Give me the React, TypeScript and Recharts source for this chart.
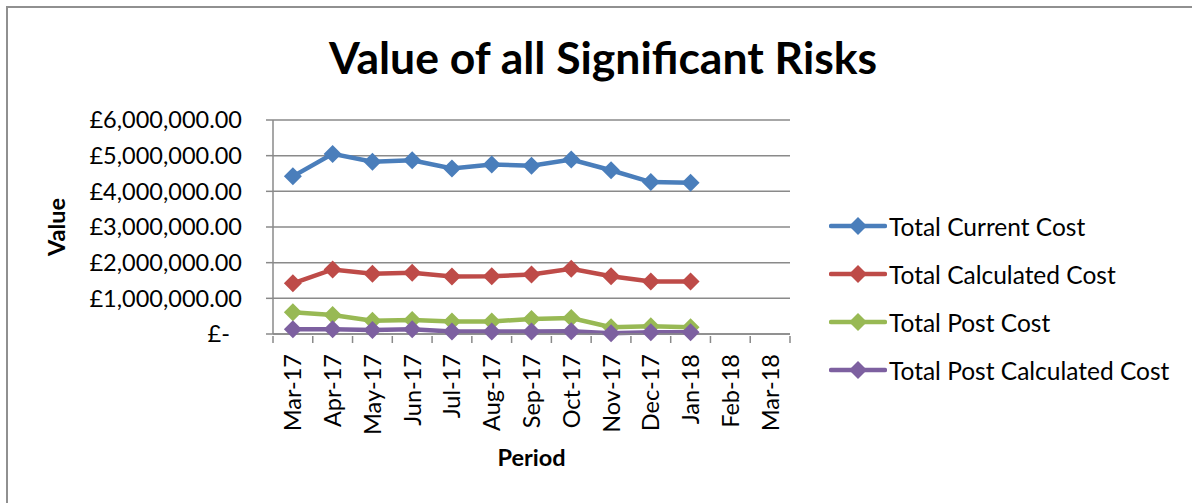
import React from "react";
import {
  LineChart,
  Line,
  XAxis,
  YAxis,
  CartesianGrid,
  Legend,
} from "recharts";

const periods = [
  "Mar-17", "Apr-17", "May-17", "Jun-17", "Jul-17", "Aug-17", "Sep-17",
  "Oct-17", "Nov-17", "Dec-17", "Jan-18", "Feb-18", "Mar-18",
];
const currentCost = [4420000, 5050000, 4830000, 4870000, 4640000, 4750000, 4720000, 4890000, 4590000, 4260000, 4240000, null, null];
const calculatedCost = [1420000, 1810000, 1690000, 1720000, 1610000, 1620000, 1670000, 1830000, 1620000, 1470000, 1470000, null, null];
const postCost = [610000, 530000, 370000, 390000, 350000, 350000, 420000, 450000, 190000, 220000, 190000, null, null];
const postCalculatedCost = [130000, 130000, 110000, 130000, 70000, 70000, 70000, 80000, 20000, 50000, 50000, null, null];
const valueTicks = [0, 1000000, 2000000, 3000000, 4000000, 5000000, 6000000];

const series = [
  { key: "current", name: "Total Current Cost", color: "#4A7EBB", values: currentCost },
  { key: "calculated", name: "Total Calculated Cost", color: "#BE4B48", values: calculatedCost },
  { key: "post", name: "Total Post Cost", color: "#98B954", values: postCost },
  { key: "postCalc", name: "Total Post Calculated Cost", color: "#7D60A0", values: postCalculatedCost },
];

const data = periods.map((p, i) => {
  const row: Record<string, any> = { period: p };
  series.forEach((s) => (row[s.key] = s.values[i]));
  return row;
});

const FONT = "Lato, 'Noto Sans', sans-serif";
const GRID = "#8a8a8a";

const fmtPound = (v: number) => {
  if (v === 0) return "£-\u00a0\u00a0";
  return "£" + v.toLocaleString("en-GB", { minimumFractionDigits: 2, maximumFractionDigits: 2 });
};

function Diamond(props: any) {
  const { cx, cy, stroke, index } = props;
  if (cx == null || cy == null || props.value == null) return <g key={index} />;
  const r = 9;
  return (
    <path
      key={index}
      d={`M${cx},${cy - r}L${cx + r},${cy}L${cx},${cy + r}L${cx - r},${cy}Z`}
      fill={stroke}
      stroke="none"
    />
  );
}

// category label + tick marks on the band edges (Excel style)
function PeriodTick(props: any) {
  const { x, y, payload, index } = props;
  const half = payload && payload.offset ? payload.offset : 19.9;
  const last = index === periods.length - 1;
  return (
    <g transform={`translate(${x},${y})`}>
      <line x1={-half} y1={-8} x2={-half} y2={-1} stroke={GRID} strokeWidth={1.5} />
      {last && <line x1={half} y1={-8} x2={half} y2={-1} stroke={GRID} strokeWidth={1.5} />}
      <text
        transform="rotate(-90)"
        x={-10}
        y={0}
        dy="0.36em"
        textAnchor="end"
        fill="#000"
        fontSize={23.5}
        fontFamily={FONT}
      >
        {payload.value}
      </text>
    </g>
  );
}

function LegendBox() {
  return (
    <div style={{ fontFamily: FONT, fontSize: 24.5, color: "#000" }}>
      {series.map((s) => (
        <div key={s.key} style={{ display: "flex", alignItems: "center", height: 48, whiteSpace: "nowrap" }}>
          <svg width={58} height={20} style={{ marginRight: 2 }}>
            <line x1={2} y1={10} x2={56} y2={10} stroke={s.color} strokeWidth={4.5} strokeLinecap="round" />
            <path d="M29,1L38,10L29,19L20,10Z" fill={s.color} />
          </svg>
          <span>{s.name}</span>
        </div>
      ))}
    </div>
  );
}

export default function App() {
  return (
    <div
      style={{
        position: "absolute",
        left: 0,
        top: 0,
        width: 1192,
        height: 503,
        overflow: "hidden",
        background: "#fff",
        fontFamily: FONT,
      }}
    >
      <div
        style={{
          position: "absolute",
          left: 6,
          top: 6,
          width: 1220,
          height: 540,
          border: "2px solid #909090",
        }}
      />
      <div
        style={{
          position: "absolute",
          left: 0,
          top: 35,
          width: 1206,
          textAlign: "center",
          fontSize: 44.5,
          lineHeight: "44px",
          fontWeight: 700,
          color: "#000",
        }}
      >
        Value of all Significant Risks
      </div>
      <div style={{ position: "absolute", left: 0, top: 0 }}>
        <LineChart
          width={1192}
          height={503}
          data={data}
          margin={{ top: 120, right: 402, bottom: 29, left: 0 }}
        >
          <CartesianGrid vertical={false} stroke={GRID} strokeWidth={1.5} />
          <XAxis
            dataKey="period"
            scale="band"
            interval={0}
            tick={<PeriodTick />}
            tickLine={false}
            axisLine={{ stroke: GRID, strokeWidth: 1.5 }}
            tickSize={8}
            height={140}
            label={(p: any) => {
              const vb = p.viewBox || {};
              return (
                <text
                  x={vb.x + vb.width / 2}
                  y={vb.y + vb.height - 8}
                  textAnchor="middle"
                  fontSize={23.5}
                  fontWeight={700}
                  fontFamily={FONT}
                  fill="#000"
                >
                  Period
                </text>
              );
            }}
          />
          <YAxis
            domain={[0, 6000000]}
            ticks={valueTicks}
            tickFormatter={fmtPound}
            width={273}
            tickSize={7}
            tickMargin={24}
            tickLine={{ stroke: GRID, strokeWidth: 1.5 }}
            axisLine={{ stroke: GRID, strokeWidth: 1.5 }}
            tick={{ fill: "#000", fontSize: 23.5, fontFamily: FONT }}
            label={(p: any) => {
              const vb = p.viewBox || {};
              const cx = vb.x + 57;
              const cy = vb.y + vb.height / 2;
              return (
                <text
                  x={cx}
                  y={cy}
                  transform={`rotate(-90, ${cx}, ${cy})`}
                  textAnchor="middle"
                  dy="0.36em"
                  fontSize={23.5}
                  fontWeight={700}
                  fontFamily={FONT}
                  fill="#000"
                >
                  Value
                </text>
              );
            }}
          />
          <Legend
            layout="vertical"
            align="center"
            verticalAlign="middle"
            content={() => <LegendBox />}
            wrapperStyle={{ left: 829, top: 202, width: 362 }}
          />
          {series.map((s) => (
            <Line
              key={s.key}
              dataKey={s.key}
              name={s.name}
              stroke={s.color}
              strokeWidth={4.5}
              dot={<Diamond />}
              activeDot={false}
              isAnimationActive={false}
            />
          ))}
        </LineChart>
      </div>
    </div>
  );
}
